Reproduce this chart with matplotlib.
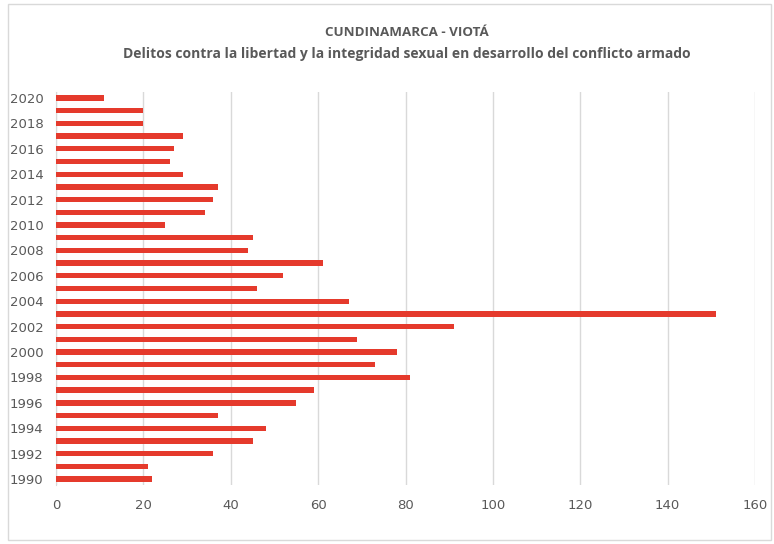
import matplotlib.pyplot as plt
from matplotlib.patches import Rectangle

years = list(range(1990, 2021))
delitos = [22, 21, 36, 45, 48, 37, 55, 59, 81, 73,
           78, 69, 91, 151, 67, 46, 52, 61, 44, 45,
           25, 34, 36, 37, 29, 26, 27, 29, 20, 20, 11]
year_labels = [str(y) for y in years if y % 2 == 0]
x_ticks = [0, 20, 40, 60, 80, 100, 120, 140, 160]

grey = '#595959'

fig = plt.figure(figsize=(7.74, 5.44), dpi=100)
ax = fig.add_axes([0.0724, 0.1077, 0.9031, 0.7239])

ax.barh(years, delitos, height=0.42, color='#E53A2C', zorder=3)

ax.set_xlim(0, 160)
ax.set_ylim(1989.5, 2020.5)
ax.set_xticks(x_ticks)
ax.set_yticks([y for y in years if y % 2 == 0])
ax.set_yticklabels(year_labels)
ax.tick_params(axis='both', length=0, labelsize=9.5, colors=grey)
ax.tick_params(axis='x', pad=10)
ax.tick_params(axis='y', pad=9)

ax.grid(axis='x', color='#d9d9d9', linewidth=1, zorder=0)
for s in ['top', 'right', 'bottom']:
    ax.spines[s].set_visible(False)
ax.spines['left'].set_color('#d9d9d9')

fig.text(0.526, 0.941, 'CUNDINAMARCA - VIOTÁ', ha='center', va='center',
         fontsize=9.6, fontweight='bold', color=grey, family='Open Sans')
fig.text(0.526, 0.901, 'Delitos contra la libertad y la integridad sexual en desarrollo del conflicto armado',
         ha='center', va='center', fontsize=10, fontweight='bold', color=grey, family='Open Sans')

fig.patches.append(Rectangle((8 / 774, 4 / 544), 763 / 774, 536 / 544, transform=fig.transFigure,
                             fill=False, edgecolor='#d9d9d9', linewidth=1))

fig.savefig('out.png', dpi=100)
